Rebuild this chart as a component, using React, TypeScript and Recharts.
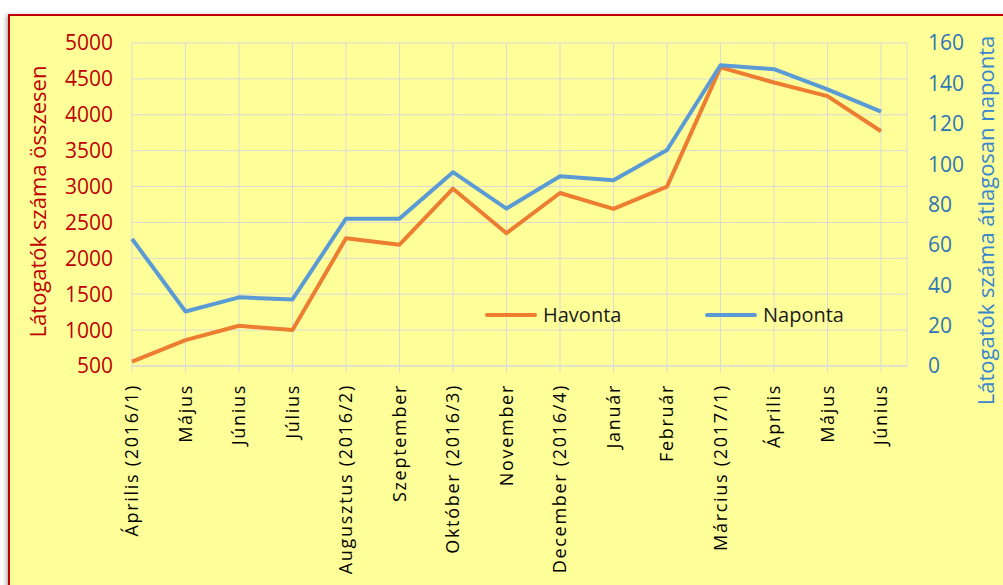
import { CartesianGrid, Label, Legend, Line, LineChart, XAxis, YAxis } from "recharts";

const months = [
  "Április (2016/1)",
  "Május",
  "Június",
  "Július",
  "Augusztus (2016/2)",
  "Szeptember",
  "Október (2016/3)",
  "November",
  "December (2016/4)",
  "Január",
  "Február",
  "Március (2017/1)",
  "Április",
  "Május",
  "Június",
];
const havonta = [560, 860, 1060, 1000, 2280, 2190, 2970, 2350, 2910, 2690, 3000, 4660, 4450, 4260, 3770];
const naponta = [63, 27, 34, 33, 73, 73, 96, 78, 94, 92, 107, 149, 147, 137, 126];
const leftTicks = [500, 1000, 1500, 2000, 2500, 3000, 3500, 4000, 4500, 5000];
const rightTicks = [0, 20, 40, 60, 80, 100, 120, 140, 160];

const RED = "#C00000";
const ORANGE = "#ED7D31";
const BLUE = "#5B9BD5";
const BLUE_DARK = "#2E75B6";
const GRID = "#D9D9D9";
const FONT = "'Open Sans', sans-serif";

const data = months.map((m, i) => ({
  idx: i,
  month: m,
  Havonta: havonta[i],
  Naponta: naponta[i],
}));

function MonthTick({ x, y, payload }: any) {
  return (
    <g transform={`translate(${x},${y})`}>
      <text
        transform="rotate(-90)"
        textAnchor="end"
        dy="0.36em"
        fontFamily={FONT}
        fontSize={18}
        letterSpacing={1.7}
        fill="#000"
      >
        {months[payload.value]}
      </text>
    </g>
  );
}

function LeftTitle({ viewBox }: any) {
  const x = viewBox.x + 28;
  const y = viewBox.y + viewBox.height / 2 - 3;
  return (
    <text x={x} y={y} transform={`rotate(-90 ${x} ${y})`} textAnchor="middle" dy="0.35em"
      fontFamily={FONT} fontSize={22} fill={RED}>
      Látogatók száma összesen
    </text>
  );
}

function RightTitle({ viewBox }: any) {
  const x = viewBox.x + 79;
  const y = viewBox.y + viewBox.height / 2 + 16;
  return (
    <text x={x} y={y} transform={`rotate(-90 ${x} ${y})`} textAnchor="middle" dy="0.35em"
      fontFamily={FONT} fontSize={22} fill="#3A86CC">
      Látogatók száma átlagosan naponta
    </text>
  );
}

function LegendBox({ payload }: any) {
  return (
    <div style={{ position: "relative", width: 400, height: 30, fontFamily: FONT, fontSize: 20 }}>
      {(payload ?? []).map((p: any, i: number) => (
        <div key={p.value} style={{ position: "absolute", left: i * 220, top: 0, display: "flex", alignItems: "center" }}>
          <span style={{ display: "inline-block", width: 52, height: 4, background: p.color, borderRadius: 2, marginRight: 6 }} />
          <span style={{ color: "#1a1a1a", lineHeight: "26px" }}>{p.value}</span>
        </div>
      ))}
    </div>
  );
}

export default function App() {
  return (
    <div style={{ position: "fixed", left: 0, top: 0, width: 1003, height: 585, overflow: "hidden", background: "#fff" }}>
      <div
        style={{
          position: "absolute",
          left: 8,
          top: 14,
          width: 1020,
          height: 600,
          boxSizing: "border-box",
          border: `2px solid ${RED}`,
          background: "#FFFF99",
          boxShadow: "-2px 1px 4px rgba(0,0,0,0.3)",
        }}
      >
        <LineChart width={990} height={569} data={data} margin={{ top: 27, right: 0, bottom: 19, left: 0 }}>
          <CartesianGrid stroke={GRID} yAxisId="left" />
          <XAxis
            dataKey="idx"
            type="category"
            height={200}
            interval={0}
            padding={{ left: 0, right: 26 }}
            stroke={GRID}
            tickSize={6}
            tickMargin={12}
            tick={<MonthTick />}
          />
          <YAxis
            yAxisId="left"
            domain={[500, 5000]}
            ticks={leftTicks}
            width={122}
            axisLine={false}
            tickLine={false}
            tickSize={0}
            tickMargin={19}
            tick={{ fill: RED, fontSize: 21, fontFamily: FONT }}
          >
            <Label content={<LeftTitle />} />
          </YAxis>
          <YAxis
            yAxisId="right"
            orientation="right"
            domain={[0, 160]}
            ticks={rightTicks}
            width={93}
            axisLine={false}
            tickLine={false}
            tickSize={0}
            tickMargin={21}
            tick={{ fill: BLUE_DARK, fontSize: 21, fontFamily: FONT }}
          >
            <Label content={<RightTitle />} />
          </YAxis>
          <Line yAxisId="left" type="linear" dataKey="Havonta" stroke={ORANGE} strokeWidth={4} dot={false}
            strokeLinejoin="round" isAnimationActive={false} />
          <Line yAxisId="right" type="linear" dataKey="Naponta" stroke={BLUE} strokeWidth={4} dot={false}
            strokeLinejoin="round" isAnimationActive={false} />
          <Legend
            layout="horizontal"
            verticalAlign="middle"
            align="center"
            content={<LegendBox />}
            wrapperStyle={{ position: "absolute", left: 475, top: 286, width: 400 }}
          />
        </LineChart>
      </div>
    </div>
  );
}
